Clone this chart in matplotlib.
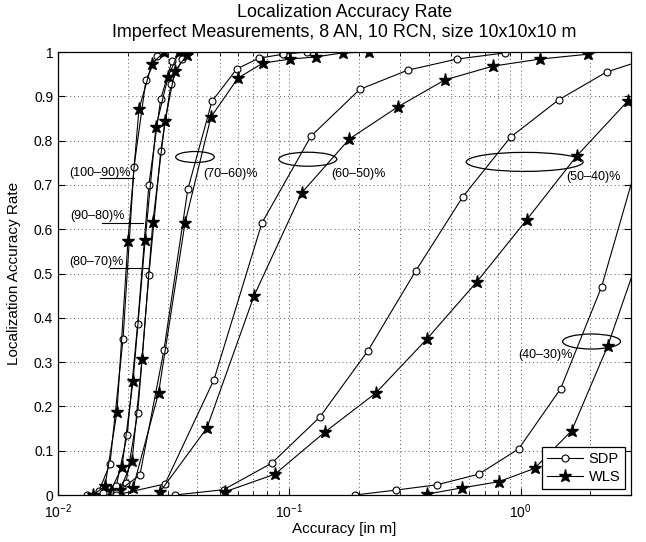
import matplotlib
matplotlib.use("Agg")
import matplotlib.pyplot as plt
from matplotlib.patches import Ellipse

plt.rcParams['font.family'] = ['Liberation Sans', 'DejaVu Sans']
plt.rcParams['mathtext.default'] = 'regular'

# accuracy [m] / localization accuracy rate
# (100-90)%
sdp_x_100_90 = [0.01335, 0.0150, 0.01677, 0.0191, 0.0213, 0.0240, 0.0268]
sdp_y_100_90 = [0.0, 0.008, 0.07, 0.352, 0.740, 0.937, 0.991]
wls_x_100_90 = [0.01416, 0.01596, 0.01798, 0.02006, 0.02238, 0.02547, 0.0287]
wls_y_100_90 = [0.0, 0.02, 0.187, 0.573, 0.871, 0.973, 1.0]
# (90-80)%
sdp_x_90_80 = [0.0156, 0.01785, 0.0199, 0.0221, 0.0247, 0.0278, 0.0311]
sdp_y_90_80 = [0.005, 0.02, 0.135, 0.386, 0.700, 0.894, 0.980]
wls_x_90_80 = [0.0169, 0.0189, 0.0211, 0.0238, 0.0265, 0.0299, 0.0333]
wls_y_90_80 = [0.01, 0.063, 0.257, 0.575, 0.830, 0.944, 1.0]
# (80-70)%
sdp_x_80_70 = [0.0175, 0.01967, 0.0221, 0.0247, 0.0278, 0.0308, 0.0345]
sdp_y_80_70 = [0.005, 0.027, 0.185, 0.497, 0.776, 0.928, 0.985]
wls_x_80_70 = [0.01852, 0.0209, 0.0231, 0.0257, 0.0290, 0.0320, 0.0361]
wls_y_80_70 = [0.011, 0.077, 0.307, 0.616, 0.844, 0.957, 0.993]
# (70-60)%
sdp_x_70_60 = [0.0178, 0.0226, 0.0287, 0.0364, 0.0463, 0.0593, 0.0738, 0.0937, 0.119]
sdp_y_70_60 = [0.005, 0.045, 0.327, 0.690, 0.889, 0.962, 0.986, 0.995, 1.0]
wls_x_70_60 = [0.0211, 0.0272, 0.0354, 0.0458, 0.0599, 0.0768, 0.1005, 0.130, 0.170, 0.220]
wls_y_70_60 = [0.016, 0.230, 0.614, 0.853, 0.941, 0.975, 0.984, 0.989, 0.998, 1.0]
# (60-50)%
sdp_x_60_50 = [0.0178, 0.029, 0.0472, 0.0761, 0.124, 0.202, 0.325, 0.529, 0.853]
sdp_y_60_50 = [0.0, 0.025, 0.260, 0.614, 0.810, 0.916, 0.959, 0.984, 0.998]
wls_x_60_50 = [0.0276, 0.044, 0.0703, 0.113, 0.182, 0.294, 0.470, 0.757, 1.208, 1.946]
wls_y_60_50 = [0.007, 0.151, 0.449, 0.682, 0.804, 0.876, 0.937, 0.968, 0.984, 0.995]
# (50-40)%
sdp_x_50_40 = [0.032, 0.052, 0.084, 0.1355, 0.2183, 0.352, 0.562, 0.905, 1.459, 2.353, 3.79]
sdp_y_50_40 = [0.0, 0.012, 0.072, 0.176, 0.325, 0.506, 0.673, 0.808, 0.892, 0.955, 0.99]
wls_x_50_40 = [0.0525, 0.0866, 0.1424, 0.2363, 0.393, 0.646, 1.061, 1.745, 2.90]
wls_y_50_40 = [0.007, 0.047, 0.142, 0.230, 0.352, 0.481, 0.621, 0.765, 0.889]
# (40-30)%
sdp_x_40_30 = [0.192, 0.288, 0.434, 0.659, 0.980, 1.489, 2.238, 3.36]
sdp_y_40_30 = [0.0, 0.011, 0.023, 0.047, 0.104, 0.240, 0.470, 0.79]
wls_x_40_30 = [0.393, 0.556, 0.804, 1.148, 1.661, 2.377, 3.4]
wls_y_40_30 = [0.002, 0.016, 0.030, 0.060, 0.145, 0.336, 0.57]

groups = [
    (sdp_x_100_90, sdp_y_100_90, wls_x_100_90, wls_y_100_90),
    (sdp_x_90_80, sdp_y_90_80, wls_x_90_80, wls_y_90_80),
    (sdp_x_80_70, sdp_y_80_70, wls_x_80_70, wls_y_80_70),
    (sdp_x_70_60, sdp_y_70_60, wls_x_70_60, wls_y_70_60),
    (sdp_x_60_50, sdp_y_60_50, wls_x_60_50, wls_y_60_50),
    (sdp_x_50_40, sdp_y_50_40, wls_x_50_40, wls_y_50_40),
    (sdp_x_40_30, sdp_y_40_30, wls_x_40_30, wls_y_40_30),
]

y_ticks = [0, 0.1, 0.2, 0.3, 0.4, 0.5, 0.6, 0.7, 0.8, 0.9, 1]
y_tick_labels = ['0', '0.1', '0.2', '0.3', '0.4', '0.5', '0.6', '0.7', '0.8', '0.9', '1']

# ellipse annotations: label, ellipse centre (data), size (axes fraction), text pos (data)
ellipse_notes = [
    ("(70\u201360)%", (0.0391, 0.763), (0.0674, 0.0248), (0.0423, 0.7246)),
    ("(60\u201350)%", (0.1202, 0.758), (0.101, 0.0316), (0.1511, 0.7246)),
    ("(50\u201340)%", (1.041, 0.752), (0.204, 0.0429), (1.58, 0.718)),
    ("(40\u201330)%", (2.026, 0.3465), (0.101, 0.0339), (0.98, 0.316)),
]
# pointer labels: label, text pos, pointer line x0, x1, y
pointer_notes = [
    ("(100\u201390)%", (0.01116, 0.7275), 0.01518, 0.0213, 0.716),
    ("(90\u201380)%", (0.01135, 0.630), 0.01545, 0.0233, 0.6147),
    ("(80\u201370)%", (0.0112, 0.5266), 0.01677, 0.0245, 0.5117),
]

fig = plt.figure(figsize=(6.46, 5.42), dpi=100)
ax = fig.add_axes([0.0898, 0.0867, 0.8870, 0.8173])

for sx, sy, wx, wy in groups:
    h_sdp, = ax.plot(sx, sy, color='k', lw=0.8, marker='o', ms=5,
                     mfc='white', mec='k', mew=0.8)
    h_wls, = ax.plot(wx, wy, color='k', lw=0.8, marker='*', ms=9.5,
                     mfc='k', mec='k')

ax.set_xscale('log')
ax.set_xlim(0.01, 3.0)
ax.set_ylim(0, 1)
ax.set_yticks(y_ticks, y_tick_labels)

ax.grid(True, which='major', linestyle=(0, (1, 3)), color='0.35', lw=0.7)
ax.xaxis.grid(True, which='minor', linestyle=(0, (1, 3)), color='0.35', lw=0.7)
ax.set_axisbelow(True)
ax.tick_params(which='both', direction='in', top=True, right=True, labelsize=10)
ax.tick_params(which='major', length=5)
ax.tick_params(which='minor', length=3)
ax.tick_params(axis='x', pad=5)
for s in ax.spines.values():
    s.set_linewidth(0.9)

ax.set_xlabel('Accuracy [in m]', fontsize=11, labelpad=1)
ax.set_ylabel('Localization Accuracy Rate', fontsize=11, labelpad=9)
ax.set_title('Localization Accuracy Rate\nImperfect Measurements, 8 AN, 10 RCN, size 10x10x10 m',
             fontsize=12.9, linespacing=1.3, pad=10.5)

fig.canvas.draw()
to_axes = ax.transAxes.inverted()
for label, centre, size, tpos in ellipse_notes:
    cx, cy = to_axes.transform(ax.transData.transform(centre))
    ax.add_patch(Ellipse((cx, cy), size[0], size[1], transform=ax.transAxes,
                         fill=False, ec='k', lw=0.9, zorder=5))
    ax.text(tpos[0], tpos[1], label, fontsize=9, ha='left', va='center')

for label, tpos, x0, x1, y in pointer_notes:
    ax.text(tpos[0], tpos[1], label, fontsize=9, ha='left', va='center')
    ax.plot([x0, x1], [y, y], color='k', lw=0.8)

leg = ax.legend([h_sdp, h_wls], ['SDP', 'WLS'], loc='lower right', fontsize=10.5,
                frameon=True, fancybox=False, edgecolor='k', framealpha=1,
                borderaxespad=0.4, handlelength=2.5, handletextpad=0.35,
                labelspacing=0.3, borderpad=0.35)
leg.get_frame().set_linewidth(0.9)

fig.savefig('out.png', dpi=100)
